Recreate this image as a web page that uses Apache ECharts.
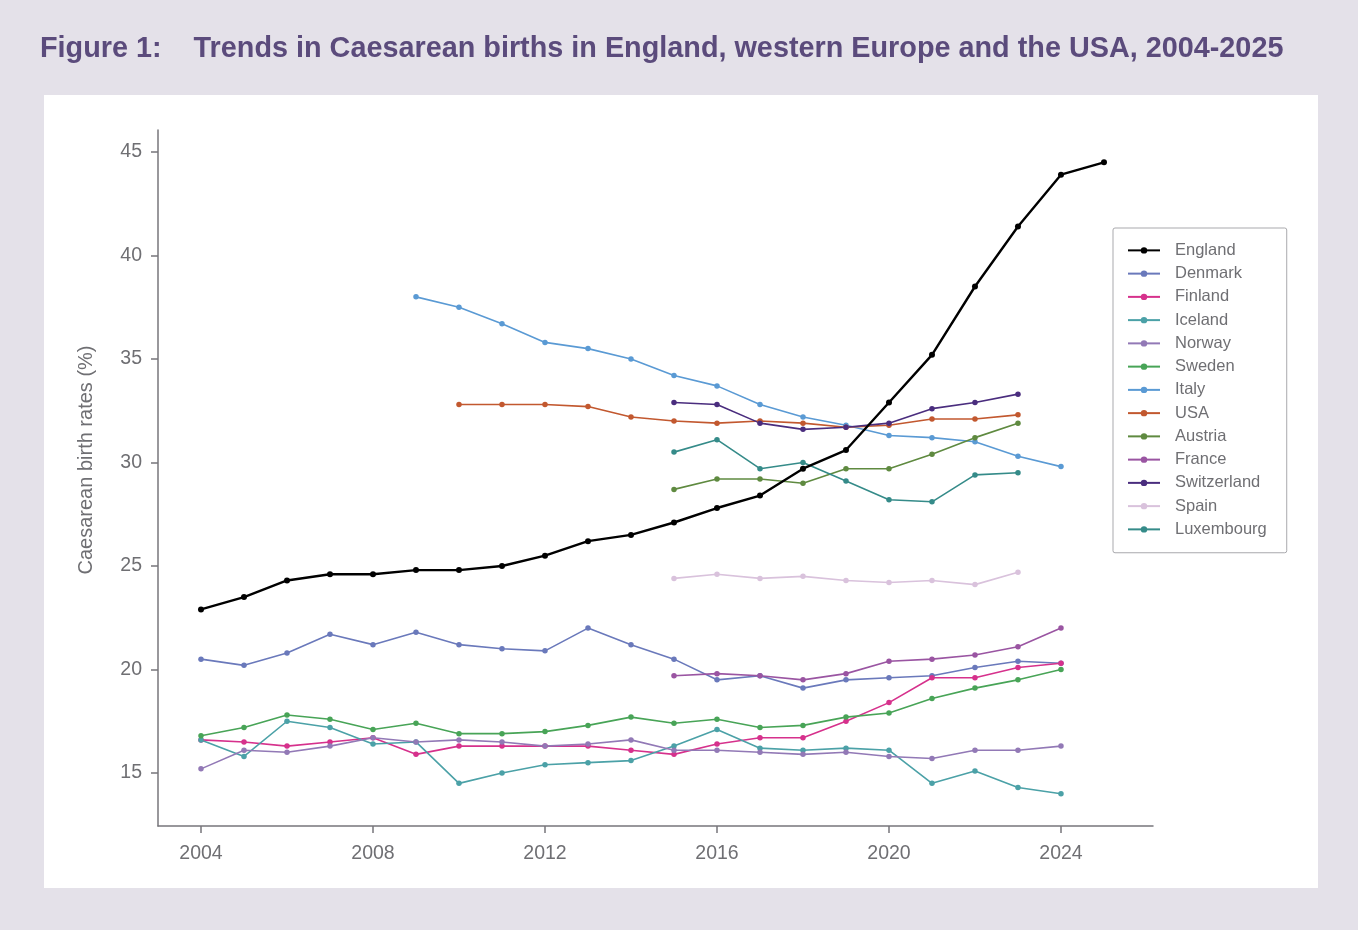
<!DOCTYPE html>
<html>
<head>
<meta charset="utf-8">
<title>Caesarean births</title>
<script src="https://cdn.jsdelivr.net/npm/echarts@6/dist/echarts.min.js"></script>
<style>
  html, body { margin: 0; padding: 0; background: #e4e1e9; }
  #chart { width: 1358px; height: 930px; }
</style>
</head>
<body>
<div id="chart"></div>
<script>
// years on the x axis
const years = [2004, 2005, 2006, 2007, 2008, 2009, 2010, 2011, 2012, 2013, 2014,
  2015, 2016, 2017, 2018, 2019, 2020, 2021, 2022, 2023, 2024, 2025];
const xTicks = [2004, 2008, 2012, 2016, 2020, 2024];
const yTicks = [15, 20, 25, 30, 35, 40, 45];

// values start at 2004 unless noted
const england = [22.9, 23.5, 24.3, 24.6, 24.6, 24.8, 24.8, 25.0, 25.5, 26.2, 26.5,
  27.1, 27.8, 28.4, 29.7, 30.6, 32.9, 35.2, 38.5, 41.4, 43.9, 44.5];
const denmark = [20.5, 20.2, 20.8, 21.7, 21.2, 21.8, 21.2, 21.0, 20.9, 22.0, 21.2,
  20.5, 19.5, 19.7, 19.1, 19.5, 19.6, 19.7, 20.1, 20.4, 20.3];
const finland = [16.6, 16.5, 16.3, 16.5, 16.7, 15.9, 16.3, 16.3, 16.3, 16.3, 16.1,
  15.9, 16.4, 16.7, 16.7, 17.5, 18.4, 19.6, 19.6, 20.1, 20.3];
const iceland = [16.6, 15.8, 17.5, 17.2, 16.4, 16.5, 14.5, 15.0, 15.4, 15.5, 15.6,
  16.3, 17.1, 16.2, 16.1, 16.2, 16.1, 14.5, 15.1, 14.3, 14.0];
const norway = [15.2, 16.1, 16.0, 16.3, 16.7, 16.5, 16.6, 16.5, 16.3, 16.4, 16.6,
  16.1, 16.1, 16.0, 15.9, 16.0, 15.8, 15.7, 16.1, 16.1, 16.3];
const sweden = [16.8, 17.2, 17.8, 17.6, 17.1, 17.4, 16.9, 16.9, 17.0, 17.3, 17.7,
  17.4, 17.6, 17.2, 17.3, 17.7, 17.9, 18.6, 19.1, 19.5, 20.0];
// from 2009
const italy = [38.0, 37.5, 36.7, 35.8, 35.5, 35.0, 34.2, 33.7, 32.8, 32.2, 31.8,
  31.3, 31.2, 31.0, 30.3, 29.8];
// from 2010
const usa = [32.8, 32.8, 32.8, 32.7, 32.2, 32.0, 31.9, 32.0, 31.9, 31.7, 31.8,
  32.1, 32.1, 32.3];
// from 2015
const austria = [28.7, 29.2, 29.2, 29.0, 29.7, 29.7, 30.4, 31.2, 31.9];
const france = [19.7, 19.8, 19.7, 19.5, 19.8, 20.4, 20.5, 20.7, 21.1, 22.0];
const switzerland = [32.9, 32.8, 31.9, 31.6, 31.7, 31.9, 32.6, 32.9, 33.3];
const spain = [24.4, 24.6, 24.4, 24.5, 24.3, 24.2, 24.3, 24.1, 24.7];
const luxembourg = [30.5, 31.1, 29.7, 30.0, 29.1, 28.2, 28.1, 29.4, 29.5];

const countries = [
  { name: 'England', start: 2004, values: england, color: '#000000', width: 2.4 },
  { name: 'Denmark', start: 2004, values: denmark, color: '#6a79bb', width: 1.6 },
  { name: 'Finland', start: 2004, values: finland, color: '#d6318c', width: 1.6 },
  { name: 'Iceland', start: 2004, values: iceland, color: '#4ba1a7', width: 1.6 },
  { name: 'Norway', start: 2004, values: norway, color: '#9279b6', width: 1.6 },
  { name: 'Sweden', start: 2004, values: sweden, color: '#48a457', width: 1.6 },
  { name: 'Italy', start: 2009, values: italy, color: '#5a9ad4', width: 1.6 },
  { name: 'USA', start: 2010, values: usa, color: '#c2582f', width: 1.6 },
  { name: 'Austria', start: 2015, values: austria, color: '#5f8a40', width: 1.6 },
  { name: 'France', start: 2015, values: france, color: '#9a55a2', width: 1.6 },
  { name: 'Switzerland', start: 2015, values: switzerland, color: '#4a2d7e', width: 1.6 },
  { name: 'Spain', start: 2015, values: spain, color: '#d9c2dc', width: 1.6 },
  { name: 'Luxembourg', start: 2015, values: luxembourg, color: '#358b89', width: 1.6 }
];

const axisGrey = '#77767b';
const labelGrey = '#6f6f73';
const font = '"Liberation Sans", Arial, sans-serif';

const chart = echarts.init(document.getElementById('chart'));

chart.setOption({
  backgroundColor: '#e4e1e9',
  animation: false,
  textStyle: { fontFamily: font },
  title: {
    text: 'Figure 1:    Trends in Caesarean births in England, western Europe and the USA, 2004-2025',
    left: 35,
    top: 30,
    textStyle: { fontSize: 28.8, fontWeight: 'bold', color: '#5b4b7c', fontFamily: font }
  },
  graphic: [{
    type: 'rect',
    left: 44, top: 95,
    shape: { width: 1274, height: 793 },
    style: { fill: '#ffffff' },
    z: -10
  }, {
    // y axis title, set off-centre like the original
    type: 'text',
    x: 86, y: 460,
    rotation: Math.PI / 2,
    style: {
      text: 'Caesarean birth rates (%)',
      fill: labelGrey,
      font: '20px ' + font,
      align: 'center',
      verticalAlign: 'middle'
    }
  }],
  grid: { left: 158, right: 205, top: 130, bottom: 104 },
  legend: {
    orient: 'vertical',
    left: 1113,
    top: 228,
    padding: [13, 20, 14, 14],
    itemWidth: 32,
    itemHeight: 8,
    itemGap: 4.5,
    borderColor: '#a9a9ad',
    borderWidth: 1,
    borderRadius: 2,
    backgroundColor: '#ffffff',
    textStyle: { fontSize: 16.5, color: labelGrey, padding: [0, 0, 0, 10], lineHeight: 18.75 },
    data: countries.map(c => c.name)
  },
  xAxis: {
    type: 'value',
    min: 2003,
    max: 2026.14,
    splitLine: { show: false },
    axisLine: { lineStyle: { color: axisGrey, width: 1.5 } },
    axisTick: { length: 7, lineStyle: { color: axisGrey, width: 1.5 }, customValues: xTicks },
    axisLabel: { fontSize: 19.5, color: labelGrey, margin: 18, customValues: xTicks, formatter: v => String(v) }
  },
  yAxis: {
    type: 'value',
    min: 12.44,
    max: 46.06,
    splitLine: { show: false },
    axisLine: { show: true, lineStyle: { color: axisGrey, width: 1.5 } },
    axisTick: { show: true, length: 7, lineStyle: { color: axisGrey, width: 1.5 }, customValues: yTicks },
    axisLabel: { fontSize: 19.5, color: labelGrey, margin: 16, customValues: yTicks }
  },
  series: countries.map(c => ({
    name: c.name,
    type: 'line',
    symbol: 'circle',
    symbolSize: c.name === 'England' ? 6 : 5.5,
    color: c.color,
    lineStyle: { width: c.width, color: c.color },
    itemStyle: { color: c.color },
    data: c.values.map((v, i) => [c.start + i, v]),
    z: c.name === 'England' ? 5 : 2
  }))
});
</script>
</body>
</html>
